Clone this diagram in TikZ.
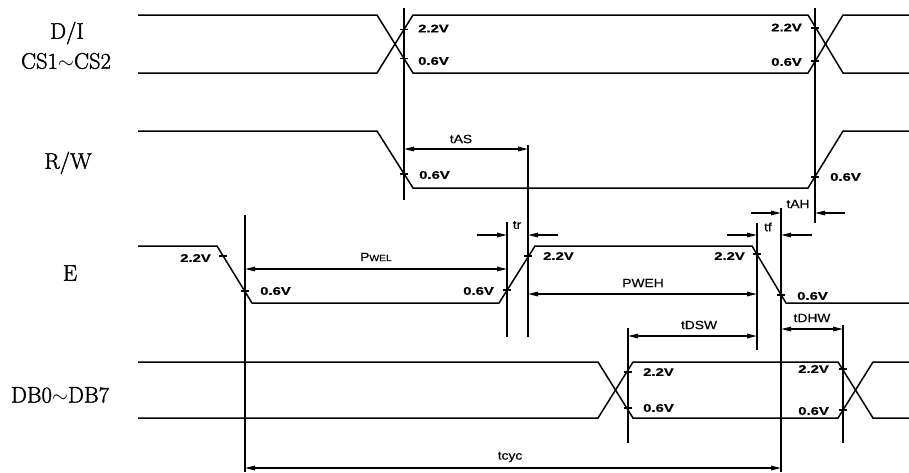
\documentclass[tikz,border=0pt]{standalone}
\usepackage{fontspec}
\usetikzlibrary{arrows.meta}
\newfontfamily\voltfam[FakeStretch=1.35,FakeBold=0.6]{Liberation Sans}
\newfontfamily\timefam[FakeStretch=1.15,FakeBold=0.3]{Liberation Sans}
\newfontfamily\namefam[FakeBold=1.6]{Latin Modern Roman}
\begin{document}
\begin{tikzpicture}[x=1pt,y=-1pt,
  sig/.style={line width=1.5pt,line join=miter},
  refl/.style={line width=1.3pt},
  dimarr/.style={line width=1.3pt,{Triangle[length=10pt,width=4.5pt]}-{Triangle[length=10pt,width=4.5pt]}},
  halfarr/.style={line width=1.3pt,-{Triangle[length=10pt,width=4.5pt]}},
  tickm/.style={line width=1.2pt},
  volt/.style={font=\voltfam\bfseries\fontsize{11}{11}\selectfont,inner sep=0pt},
  tlab/.style={font=\timefam\fontsize{12}{12}\selectfont,inner sep=0pt},
  sname/.style={font=\namefam\fontsize{22.5}{22.5}\selectfont,inner sep=0pt}]
\useasboundingbox (0,0) rectangle (909,472);

% ---------- signal names ----------
\node[sname] (nDI) at (67,33) {D/I};
\node[sname] (nCS) at (66,61) {CS1$\sim$CS2};
\node[sname] (nRW) at (68,163) {R/W};
\node[sname] (nE) at (70,273) {E};
\node[sname] (nDB) at (60,395) {DB0$\sim$DB7};

% ---------- D/I, CS1~CS2 ----------
\draw[sig] (138,15) -- (377,15) -- (413,73) -- (808,73) -- (843,15) -- (909,15);
\draw[sig] (138,73) -- (377,73) -- (413,15) -- (808,15) -- (843,73) -- (909,73);

% ---------- R/W ----------
\draw[sig] (138,131) -- (377,131) -- (413,188) -- (808,188) -- (843,131) -- (909,131);

% ---------- E ----------
\draw[sig] (138,246) -- (217,246) -- (252,303) -- (499,303) -- (535,246) -- (752,246) -- (786,303) -- (909,303);

% ---------- DB0~DB7 ----------
\draw[sig] (138,362) -- (598,362) -- (633,418) -- (838,418) -- (873,362) -- (909,362);
\draw[sig] (138,418) -- (598,418) -- (633,362) -- (838,362) -- (873,418) -- (909,418);

% ---------- reference verticals ----------
\coordinate (v404t) at (404,8);   \coordinate (v404b) at (404,200);
\coordinate (v815t) at (815,8);   \coordinate (v815b) at (815,223);
\coordinate (v528t) at (528,145); \coordinate (v528b) at (528,337);
\coordinate (v507t) at (507,222); \coordinate (v507b) at (507,337);
\coordinate (v245t) at (245,215); \coordinate (v245b) at (245,472);
\coordinate (v757t) at (757,223); \coordinate (v757b) at (757,350);
\coordinate (v781t) at (781,208); \coordinate (v781b) at (781,472);
\coordinate (v628t) at (628,328); \coordinate (v628b) at (628,443);
\coordinate (v843t) at (843,325); \coordinate (v843b) at (843,443);
\foreach \a in {v404,v815,v528,v507,v245,v757,v781,v628,v843}
  \draw[refl] (\a t) -- (\a b);

% ---------- ticks ----------
\foreach \p in {(404,29.5),(404,58.5),(815,28),(815,61),(404,174),(815,177),
  (223,256),(245,291),(507,290),(528,256),(757,254),(781,295),
  (628,372),(628,408),(843,369),(843,410)}
  \draw[tickm] \p ++(-4,0) -- ++(8,0);

% ---------- voltage labels ----------
\node[volt,anchor=west] (l1) at (418,28.5) {2.2V};
\node[volt,anchor=west] (l2) at (418,61) {0.6V};
\node[volt,anchor=east] (l3) at (802,27.5) {2.2V};
\node[volt,anchor=east] (l4) at (802,62) {0.6V};
\node[volt,anchor=west] (l5) at (419,175) {0.6V};
\node[volt,anchor=west] (l6) at (830,177) {0.6V};
\node[volt,anchor=east] (l7) at (211,258) {2.2V};
\node[volt,anchor=west] (l8) at (260,291) {0.6V};
\node[volt,anchor=east] (l9) at (494,291) {0.6V};
\node[volt,anchor=west] (l10) at (543,256) {2.2V};
\node[volt,anchor=east] (l11) at (745,256) {2.2V};
\node[volt,anchor=west] (l12) at (797,296) {0.6V};
\node[volt,anchor=west] (l13) at (643,372) {2.2V};
\node[volt,anchor=west] (l14) at (643,408) {0.6V};
\node[volt,anchor=east] (l15) at (829,369) {2.2V};
\node[volt,anchor=east] (l16) at (829,411) {0.6V};

% ---------- dimension arrows ----------
\draw[dimarr] (404,149) -- (528,149);
\node[tlab] (tAS) at (461,139) {tAS};

\draw[dimarr] (245,269) -- (507,269);
\node[tlab] (PWEL) at (376,257) {P{\fontsize{9}{9}\selectfont WEL}};

\draw[dimarr] (528,294) -- (757,294);
\node[tlab] (PWEH) at (643,283) {PWEH};

\draw[halfarr] (477,235) -- (507,235);
\draw[halfarr] (558,235) -- (528,235);
\node[tlab] (tr) at (517,225) {tr};

\draw[halfarr] (727,235) -- (757,235);
\draw[halfarr] (812,235) -- (781,235);
\node[tlab] (tf) at (768,227) {tf};

\draw[halfarr] (751,213) -- (781,213);
\draw[halfarr] (845,213) -- (815,213);
\node[tlab] (tAH) at (798,204) {tAH};

\draw[dimarr] (628,336) -- (757,336);
\node[tlab] (tDSW) at (699,325) {tDSW};

\draw[dimarr] (781,329) -- (843,329);
\node[tlab] (tDHW) at (812,318) {tDHW};

\draw[dimarr] (245,468) -- (781,468);
\node[tlab] (tcyc) at (510,457) {tcyc};
\end{tikzpicture}
\end{document}
